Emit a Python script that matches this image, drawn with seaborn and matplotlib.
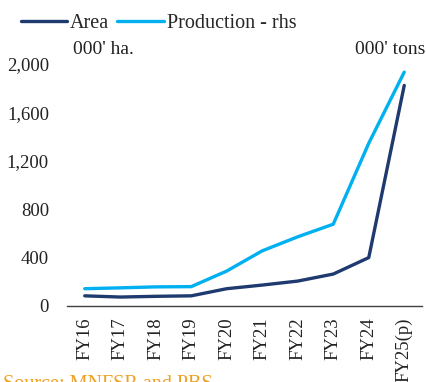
import matplotlib
matplotlib.use("Agg")
import matplotlib.pyplot as plt
import seaborn as sns
import pandas as pd

years = ["FY16", "FY17", "FY18", "FY19", "FY20", "FY21", "FY22", "FY23", "FY24", "FY25(p)"]
area = [84, 74, 80, 84, 143, 173, 206, 264, 400, 1823]
production = [143, 150, 158, 160, 289, 456, 572, 676, 1345, 1933]
y_ticks = [0, 400, 800, 1200, 1600, 2000]

sns.set_theme(style="white")
plt.rcParams["font.family"] = ["Liberation Serif", "DejaVu Serif"]

NAVY = "#1F3A6E"
SKY = "#00B0F0"
ORANGE = "#F0A020"

df = pd.DataFrame({"year": years, "Area": area, "Production - rhs": production})

fig = plt.figure(figsize=(4.26, 3.82), dpi=100)
ax = fig.add_axes([67 / 426, 1 - 306 / 382, (422 - 67) / 426, (306 - 64) / 382])

sns.lineplot(data=df, x="year", y="Area", ax=ax, color=NAVY, linewidth=2.4,
             sort=False, label="Area")
sns.lineplot(data=df, x="year", y="Production - rhs", ax=ax, color=SKY, linewidth=2.4,
             sort=False, label="Production - rhs")

ax.set_xlim(-0.5, len(years) - 0.5)
ax.set_ylim(0, 2000)
ax.set_yticks(y_ticks)
ax.set_yticklabels([f"{v:,}" for v in y_ticks])
ax.set_xlabel("")
ax.set_ylabel("")
ax.tick_params(axis="y", length=0, pad=13, labelsize=13.5, colors="#222222")
ax.tick_params(axis="x", length=0, pad=8, labelsize=13.5, colors="#222222", rotation=90)
for lbl in ax.get_xticklabels():
    lbl.set_verticalalignment("top")

for side in ["left", "right", "top"]:
    ax.spines[side].set_visible(False)
ax.spines["bottom"].set_color("#404040")
ax.spines["bottom"].set_linewidth(1.0)
ax.grid(False)

handles, labels = ax.get_legend_handles_labels()
ax.get_legend().remove()
fig.legend(handles, labels, loc="upper left", bbox_to_anchor=(0.03, 0.985), ncol=2,
           frameon=False, fontsize=14.5, handlelength=2.3, handletextpad=0.15,
           columnspacing=0.4, borderaxespad=0)

fig.text(73 / 426, 1 - 50 / 382, "000' ha.", fontsize=14, color="#222222",
         ha="left", va="center")
fig.text(425 / 426, 1 - 50 / 382, "000' tons", fontsize=14, color="#222222",
         ha="right", va="center")

fig.text(3 / 426, 1 - 375 / 382, "Source: MNFSR and PBS", fontsize=14.5, color=ORANGE,
         ha="left", va="top")

fig.savefig("out.png", dpi=100)
